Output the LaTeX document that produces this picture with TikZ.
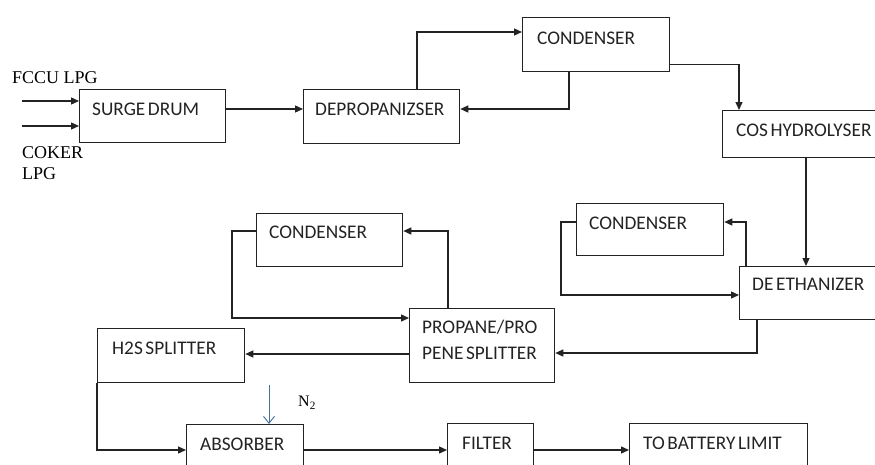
\documentclass[tikz,border=0pt]{standalone}
\usepackage{fontspec}
\setmainfont{Liberation Serif}
\newfontfamily\calfont[WordSpace=0.6]{Carlito}
\usetikzlibrary{arrows.meta}
\definecolor{nblue}{RGB}{70,112,160}
\definecolor{ln}{RGB}{35,35,35}
\tikzset{
  box/.style={draw=ln, line width=1.3pt, rectangle, inner sep=0pt, anchor=north west},
  lbl/.style={font=\calfont\fontsize{19.3}{22}\selectfont, text=ln, inner sep=0pt, anchor=west, align=left},
  ser/.style={font=\fontsize{18}{20}\selectfont, inner sep=0pt, anchor=west},
  arr/.style={draw=ln, line width=1.3pt, -{Triangle[length=8pt,width=7pt]}},
}
\begin{document}
\begin{tikzpicture}[x=1pt,y=-1pt]
\useasboundingbox (0,0) rectangle (875,464);
\clip (0,0) rectangle (875,464);
% boxes
\node[box, minimum width=146pt, minimum height=53pt] (sd) at (79,89) {};
\node[box, minimum width=156pt, minimum height=54pt] (dep) at (303,89) {};
\node[box, minimum width=147pt, minimum height=54pt] (c1) at (522,17) {};
\node[box, minimum width=160pt, minimum height=47pt] (cos) at (722,110) {};
\node[box, minimum width=147pt, minimum height=52pt] (c2) at (576,203) {};
\node[box, minimum width=145pt, minimum height=53pt] (de) at (739,266) {};
\node[box, minimum width=146pt, minimum height=53pt] (c3) at (256,213) {};
\node[box, minimum width=145pt, minimum height=74pt] (pp) at (409,308) {};
\node[box, minimum width=147pt, minimum height=54pt] (h2s) at (97,328) {};
\node[box, minimum width=117pt, minimum height=50pt] (abs) at (186,424) {};
\node[box, minimum width=86pt, minimum height=50pt] (fil) at (447,423) {};
\node[box, minimum width=178pt, minimum height=50pt] (tbl) at (629,423) {};
% box texts
\node[lbl] (sdt) at (92,109) {SURGE DRUM};
\node[lbl] (dept) at (315,109) {DEPROPANIZSER};
\node[lbl] (c1t) at (537,38) {CONDENSER};
\node[lbl] (cost) at (736,130) {COS HYDROLYSER};
\node[lbl] (c2t) at (589,223) {CONDENSER};
\node[lbl] (det) at (752,284) {DE ETHANIZER};
\node[lbl] (c3t) at (269,232) {CONDENSER};
\node[lbl] (ppt1) at (422,327) {PROPANE/PRO};
\node[lbl] (ppt2) at (422,353) {PENE SPLITTER};
\node[lbl] (h2st) at (112,348) {H2S SPLITTER};
\node[lbl] (abst) at (200,444) {ABSORBER};
\node[lbl] (filt) at (462,443) {FILTER};
\node[lbl] (tblt) at (643,443) {TO BATTERY LIMIT};
% feed texts
\node[ser] (fccu) at (12,78) {FCCU LPG};
\node[ser] (coker) at (22,153) {COKER};
\node[ser] (lpg) at (22,174) {LPG};
\node[font=\fontsize{16}{18}\selectfont, inner sep=0pt, anchor=west] (n2t) at (298,403) {N\textsubscript{2}};
% free ends
\coordinate (f1) at (22,101);
\coordinate (f2) at (22,126);
\coordinate (n2s) at (269,385);
% connectors
\draw[arr] (f1) -- (f1 -| sd.west);
\draw[arr] (f2) -- (f2 -| sd.west);
\draw[arr] ([yshift=-20pt]sd.north east) -- ([yshift=-20pt]dep.north west);
\draw[arr] ([xshift=114pt]dep.north west) |- ([yshift=-15pt]c1.north west);
\draw[arr] ([xshift=47pt]c1.south west) |- ([yshift=-20pt]dep.north east);
\draw[arr] ([yshift=8pt]c1.south east) -| ([xshift=17pt]cos.north west);
\draw[arr] ([xshift=84pt]cos.south west) -- ([xshift=67pt]de.north west);
\draw[arr] ([xshift=7pt]de.north west) |- ([yshift=-19pt]c2.north east);
\draw[arr] ([yshift=-19pt]c2.north west) -| ++(-15,0) |- ([yshift=-29pt]de.north west);
\draw[arr] ([xshift=18pt]de.south west) |- ([yshift=-45pt]pp.north east);
\draw[arr] ([xshift=39pt]pp.north west) |- ([yshift=-18pt]c3.north east);
\draw[arr] ([yshift=-18pt]c3.north west) -| ++(-24,0) |- ([yshift=-10pt]pp.north west);
\draw[arr] ([yshift=-46pt]pp.north west) -- ([yshift=-26pt]h2s.north east);
\draw[arr] (h2s.south west) |- ([yshift=-26pt]abs.north west);
\draw[arr] ([yshift=-27pt]fil.north west -| abs.east) -- ([yshift=-27pt]fil.north west);
\draw[arr] ([yshift=-27pt]fil.north east) -- ([yshift=-27pt]tbl.north west);
\draw[draw=nblue, line width=0.9pt, -{Straight Barb[length=7pt,width=11pt]}] (n2s) -- (n2s |- abs.north);
\end{tikzpicture}
\end{document}
